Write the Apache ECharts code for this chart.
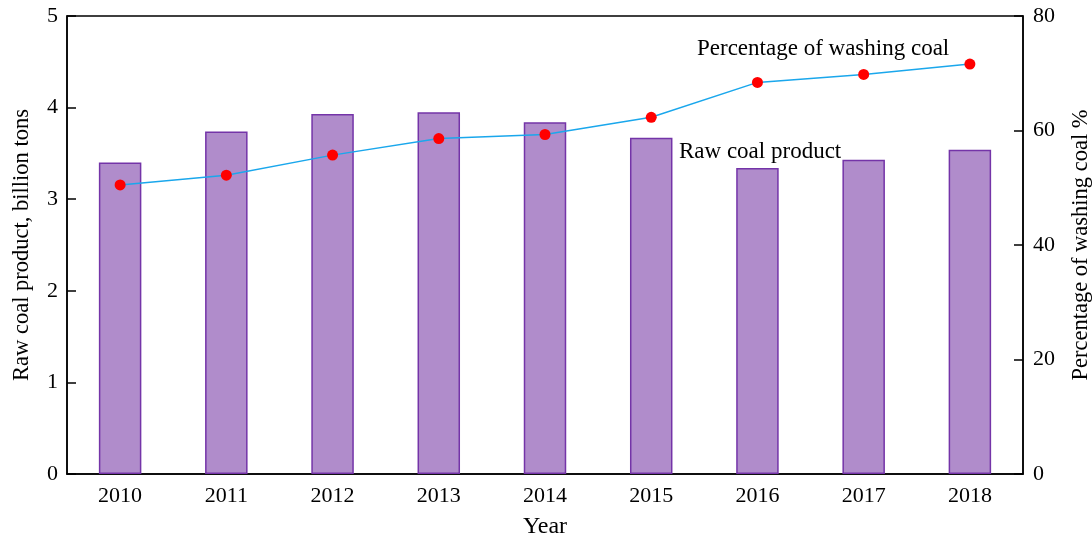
<!DOCTYPE html>
<html><head><meta charset="utf-8">
<script src="https://cdn.jsdelivr.net/npm/echarts@6/dist/echarts.min.js"></script>
<style>html,body{margin:0;padding:0;background:#fff}#c{width:1092px;height:540px}</style>
</head><body><div id="c"></div>
<script>
const years = ['2010','2011','2012','2013','2014','2015','2016','2017','2018'];
const rawCoal = [3.40, 3.74, 3.93, 3.95, 3.84, 3.67, 3.34, 3.43, 3.54];
const washingPct = [50.5, 52.2, 55.7, 58.6, 59.3, 62.3, 68.4, 69.8, 71.6];
const leftTicks = [0, 5, 1];
const rightTicks = [0, 80, 20];

const font = 'Liberation Serif';
const chart = echarts.init(document.getElementById('c'));
chart.setOption({
  animation: false,
  textStyle: {fontFamily: font, color: '#000'},
  grid: {left: 67, right: 69, top: 16, bottom: 66, outerBoundsMode: 'none', containLabel: false,
         show: true, borderColor: '#000', borderWidth: 1.5},
  xAxis: {
    type: 'category', data: years,
    name: 'Year', nameLocation: 'middle', nameGap: 41,
    nameTextStyle: {fontFamily: font, fontSize: 24, color: '#000'},
    axisLine: {lineStyle: {color: '#000', width: 1.5}},
    axisTick: {show: false},
    axisLabel: {fontFamily: font, fontSize: 22, color: '#000', margin: 11}
  },
  yAxis: [{
    type: 'value', min: leftTicks[0], max: leftTicks[1], interval: leftTicks[2],
    name: 'Raw coal product, billion tons', nameLocation: 'middle', nameGap: 33,
    nameTextStyle: {fontFamily: font, fontSize: 22.5, color: '#000'},
    axisLine: {show: true, lineStyle: {color: '#000', width: 1.5}},
    axisTick: {show: true, inside: true, length: 9, lineStyle: {color: '#000', width: 1.5}},
    axisLabel: {fontFamily: font, fontSize: 22, color: '#000', margin: 9},
    splitLine: {show: false}
  }, {
    type: 'value', min: rightTicks[0], max: rightTicks[1], interval: rightTicks[2],
    name: 'Percentage of washing coal %', nameLocation: 'middle', nameGap: 47,
    nameTextStyle: {fontFamily: font, fontSize: 22.5, color: '#000'},
    axisLine: {show: true, lineStyle: {color: '#000', width: 1.5}},
    axisTick: {show: true, inside: true, length: 9, lineStyle: {color: '#000', width: 1.5}},
    axisLabel: {fontFamily: font, fontSize: 22, color: '#000', margin: 10},
    splitLine: {show: false}
  }],
  series: [{
    type: 'bar', data: rawCoal, yAxisIndex: 0, barWidth: '40%',
    itemStyle: {color: '#b08ccb', borderColor: '#7434a8', borderWidth: 1.5}
  }, {
    type: 'line', data: washingPct, yAxisIndex: 1,
    symbol: 'circle', symbolSize: 11,
    lineStyle: {color: '#1aa7ec', width: 1.5},
    itemStyle: {color: '#ff0000'}
  }],
  graphic: [
    {type: 'text', left: 697, top: 37, style: {text: 'Percentage of washing coal', font: '23px "Liberation Serif"', fill: '#000'}},
    {type: 'text', left: 679, top: 140, style: {text: 'Raw coal product', font: '23px "Liberation Serif"', fill: '#000'}}
  ]
});
</script></body></html>
